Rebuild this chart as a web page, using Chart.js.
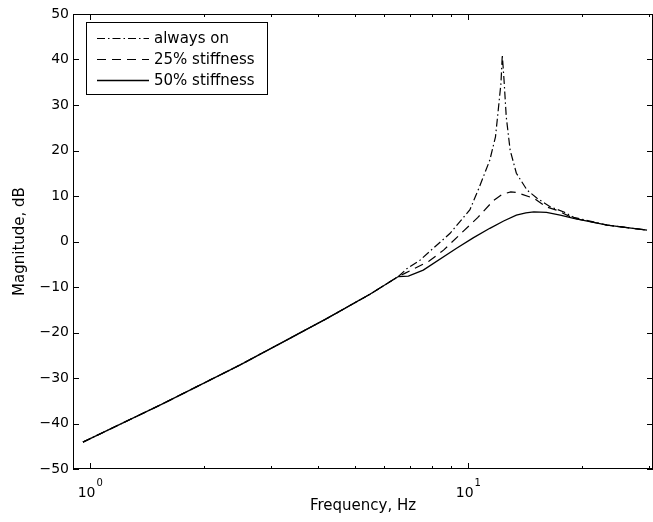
<!DOCTYPE html>
<html lang="en">
<head>
<meta charset="UTF-8" />
<title>Magnitude vs frequency</title>
<script src="https://cdn.jsdelivr.net/npm/chart.js"></script>
<style>
  body { margin: 0; background: #fff; }
  canvas { display: block; }
</style>
</head>
<body>
<canvas id="grafico" width="653" height="522"></canvas>
<script>
  const seriesNames = ['always on', '25% stiffness', '50% stiffness'];

  // low-frequency part, the three curves lie on top of each other here
  const freqLow = [0.956, 1.543, 2.493, 3.66, 4.23, 5.49, 6.53];
  const magLow = [-44.1, -35.8, -27.1, -19.7, -16.9, -11.6, -7.7];

  const freqOn = [6.87, 7.45, 8.95, 10.1, 10.7, 11.4, 11.8, 12.0, 12.2, 12.3, 12.43, 12.6, 12.9, 13.4, 14.3, 15.2, 16.5, 17.9, 19.0, 23.3, 29.7];
  const magOn = [-6.0, -4.1, 1.8, 7.0, 12.0, 17.9, 23.0, 28.9, 34.8, 41.0, 35.5, 27.4, 20.1, 15.0, 11.3, 9.5, 7.6, 6.5, 5.3, 3.6, 2.5];

  const freq25 = [6.79, 7.88, 8.6, 9.63, 10.6, 11.65, 12.3, 12.95, 13.4, 14.9, 16.1, 17.1, 19.0, 23.3, 29.7];
  const mag25 = [-7.0, -4.3, -1.9, 2.0, 5.3, 9.0, 10.4, 10.9, 10.8, 9.5, 7.6, 6.9, 5.1, 3.6, 2.5];

  const freq50 = [6.94, 7.6, 9.31, 10.3, 11.4, 12.4, 13.4, 14.2, 14.9, 16.1, 17.5, 19.0, 23.3, 29.7];
  const mag50 = [-7.6, -6.3, -1.5, 0.8, 2.9, 4.5, 5.8, 6.3, 6.5, 6.4, 5.8, 5.1, 3.6, 2.5];

  const yTicks = [-50, -40, -30, -20, -10, 0, 10, 20, 30, 40, 50];
  const xMajor = [1, 10];
  const xMinor = [2, 3, 4, 5, 6, 7, 8, 9, 20, 30];

  const FONT = 'DejaVu Sans';

  function pts(fx, my) {
    const f = freqLow.concat(fx), m = magLow.concat(my);
    return f.map((x, i) => ({ x: x, y: m[i] }));
  }

  // frame with inward ticks, decade labels and legend box
  const matlabAxes = {
    id: 'matlabAxes',
    afterDraw(chart) {
      const { ctx, chartArea: a, scales: { x, y } } = chart;
      ctx.save();
      ctx.strokeStyle = '#000';
      ctx.fillStyle = '#000';
      ctx.lineWidth = 1;
      ctx.setLineDash([]);
      ctx.strokeRect(a.left + 0.5, a.top + 0.5, a.right - a.left - 1, a.bottom - a.top - 1);

      ctx.beginPath();
      yTicks.forEach(v => {
        const py = Math.round(y.getPixelForValue(v)) + 0.5;
        ctx.moveTo(a.left, py); ctx.lineTo(a.left + 6, py);
        ctx.moveTo(a.right, py); ctx.lineTo(a.right - 6, py);
      });
      const xTick = (v, len) => {
        const px = Math.round(x.getPixelForValue(v)) + 0.5;
        ctx.moveTo(px, a.bottom); ctx.lineTo(px, a.bottom - len);
        ctx.moveTo(px, a.top); ctx.lineTo(px, a.top + len);
      };
      xMajor.forEach(v => xTick(v, 6));
      xMinor.forEach(v => xTick(v, 3));
      ctx.stroke();

      // 10^n labels
      ctx.textBaseline = 'alphabetic';
      ctx.textAlign = 'left';
      xMajor.forEach(v => {
        const px = x.getPixelForValue(v);
        const ex = String(Math.round(Math.log10(v)));
        ctx.font = '14px "' + FONT + '"';
        const w1 = ctx.measureText('10').width;
        ctx.font = '10px "' + FONT + '"';
        const w2 = ctx.measureText(ex).width;
        const start = px - (w1 + w2 + 1) / 2;
        ctx.font = '14px "' + FONT + '"';
        ctx.fillText('10', start, 497);
        ctx.font = '10px "' + FONT + '"';
        ctx.fillText(ex, start + w1 + 1, 486);
      });

      // legend
      const lx = 86.5, ly = 22.5, rows = [38, 59, 80];
      ctx.strokeRect(lx, ly, 181, 72);
      ctx.font = '15px "' + FONT + '"';
      ctx.textBaseline = 'middle';
      chart.data.datasets.forEach((ds, i) => {
        ctx.beginPath();
        ctx.lineWidth = ds.borderWidth;
        ctx.setLineDash(ds.borderDash || []);
        ctx.moveTo(97, rows[i] + 0.5);
        ctx.lineTo(149, rows[i] + 0.5);
        ctx.stroke();
        ctx.setLineDash([]);
        ctx.fillText(ds.label, 154, rows[i] + 1);
      });
      ctx.restore();
    }
  };

  const ctx = document.getElementById('grafico').getContext('2d');
  const common = { borderColor: '#000', pointRadius: 0, fill: false, tension: 0 };
  new Chart(ctx, {
    type: 'line',
    data: {
      datasets: [
        { ...common, label: seriesNames[0], data: pts(freqOn, magOn), borderWidth: 1.2, borderDash: [8, 3, 1.5, 3] },
        { ...common, label: seriesNames[1], data: pts(freq25, mag25), borderWidth: 1.2, borderDash: [9, 6] },
        { ...common, label: seriesNames[2], data: pts(freq50, mag50), borderWidth: 1.3, borderDash: [] }
      ]
    },
    options: {
      responsive: false,
      animation: false,
      layout: { padding: { top: 14, right: 0, left: 0, bottom: 0 } },
      plugins: { legend: { display: false }, tooltip: { enabled: false } },
      scales: {
        x: {
          type: 'logarithmic',
          min: 0.9,
          max: 30.8,
          grid: { display: false, drawTicks: false },
          border: { display: false },
          ticks: { display: false },
          afterFit: s => { s.height = 53; },
          title: { display: true, text: 'Frequency, Hz', color: '#000', font: { family: FONT, size: 15 }, padding: { top: 0, bottom: 7 } }
        },
        y: {
          type: 'linear',
          min: -50,
          max: 50,
          grid: { display: false, drawTicks: false },
          border: { display: false },
          ticks: {
            stepSize: 10,
            color: '#000',
            padding: 4,
            font: { family: FONT, size: 14 },
            callback: v => String(v).replace('-', '\u2212')
          },
          afterFit: s => { s.width = 73; },
          title: { display: true, text: 'Magnitude, dB', color: '#000', font: { family: FONT, size: 15 }, padding: { top: 11, bottom: 0 } }
        }
      }
    },
    plugins: [matlabAxes]
  });
</script>
</body>
</html>
